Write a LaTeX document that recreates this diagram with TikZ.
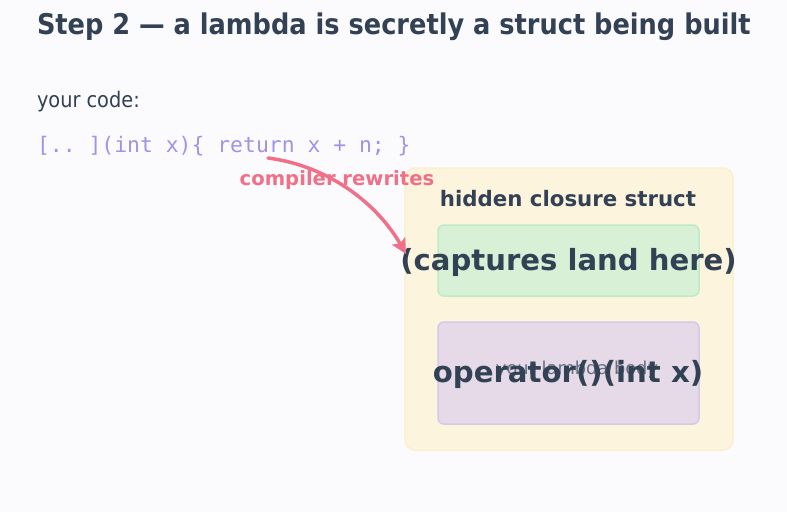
\documentclass[tikz,border=0pt]{standalone}
\usepackage{fontspec}
\setmainfont{DejaVu Sans}
\setmonofont{DejaVu Sans Mono}
\newfontfamily\condfont{DejaVu Sans Condensed}
\usetikzlibrary{arrows.meta,positioning}
\definecolor{ink}{HTML}{334155}
\definecolor{codeclr}{HTML}{A393E6}
\definecolor{rewrite}{HTML}{F07088}
\definecolor{structfill}{HTML}{FCF4DC}
\definecolor{structline}{HTML}{FAEFCF}
\definecolor{capfill}{HTML}{D7F0D6}
\definecolor{capline}{HTML}{BDEBC6}
\definecolor{bodyfill}{HTML}{E6DAE8}
\definecolor{bodyline}{HTML}{D6C7EC}
\definecolor{pagebg}{HTML}{FBFBFE}
\begin{document}
\begin{tikzpicture}[x=1pt, y=-1pt,
  every node/.style={inner sep=0pt, outer sep=0pt},
  slot/.style={draw, line width=1.5pt, rounded corners=6pt, minimum width=261pt}]
  % page
  \fill[pagebg] (0,0) rectangle (787,512);
  \useasboundingbox (0,0) rectangle (787,512);

  % heading and source line
  \node[anchor=west, text=ink, font=\condfont\bfseries\fontsize{28.5}{32}\selectfont] (title) at (37,27) {Step 2 — a lambda is secretly a struct being built};
  \node[anchor=west, text=ink, font=\condfont\fontsize{21.5}{25}\selectfont] (label) at (37,102) {your code:};
  \node[anchor=west, text=codeclr, font=\ttfamily\fontsize{21.4}{25}\selectfont] (code) at (37,146) {[.. ](int x)\{ return x + n; \}};

  % closure struct
  \node[draw=structline, fill=structfill, line width=1.5pt, rounded corners=10pt, minimum width=328pt, minimum height=282pt] (struct) at (569,309) {};
  \node[text=ink, font=\bfseries\fontsize{21.3}{25}\selectfont] (structname) at (568,198.5) {hidden closure struct};
  \node[slot, draw=capline, fill=capfill, minimum height=71pt] (capbox) at (568.5,260.5) {};
  \node[text=ink, font=\bfseries\fontsize{29.1}{34}\selectfont] (cap) at (568.5,262) {(captures land here)};
  \node[slot, draw=bodyline, fill=bodyfill, minimum height=102pt] (bodybox) at (568.5,373) {};
  \node[text=ink!75, font=\fontsize{17.8}{21}\selectfont] (bodynote) at (577,369.5) {your lambda body};
  \node[text=ink, font=\bfseries\fontsize{29.2}{34}\selectfont] (op) at (568,374) {operator()(int x)};

  % rewrite arrow
  \node[text=rewrite, font=\bfseries\fontsize{19.6}{23}\selectfont] (rewritelabel) at (337,180.5) {compiler rewrites};
  \coordinate (arrowstart) at (268,158);
  \coordinate (arrowend) at (406,254);
  \draw[rewrite, line width=3.5pt, line cap=round, -{Stealth[length=15pt, width=15pt, inset=3pt]}] (arrowstart) .. controls (330,166) and (378,205) .. (arrowend);
\end{tikzpicture}
\end{document}
